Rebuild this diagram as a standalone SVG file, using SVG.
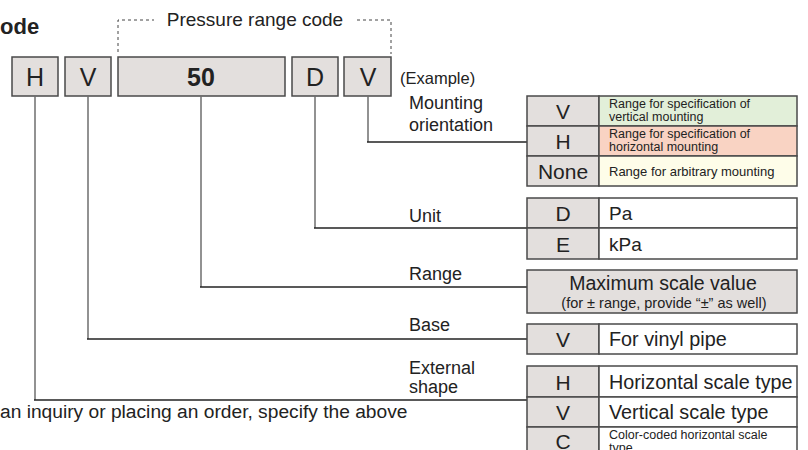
<svg xmlns="http://www.w3.org/2000/svg" width="808" height="450" viewBox="0 0 808 450">
<style>
text{font-family:"Liberation Sans",Arial,sans-serif;fill:#222}
.box{fill:#e3dfdd;stroke:#4a4a4a;stroke-width:1.5}
.cell{stroke:#4a4a4a;stroke-width:1.5}
.code{font-size:25px;text-anchor:middle}
.lab{font-size:18px}
.tk{font-size:21px;text-anchor:middle}
.td{font-size:19.8px}
.ts{font-size:12.5px}
.v{fill:none;stroke:#6e6e6e;stroke-width:1.5}
.h{fill:none;stroke:#222;stroke-width:1.5}
.dash{fill:none;stroke:#444;stroke-width:1;stroke-dasharray:3,3}
</style>
<text x="0" y="34" style="font-size:22px;font-weight:bold">ode</text>
<path class="dash" d="M118,52 V20 H154 M357,20 H391 V54"/>
<text x="255" y="26" style="font-size:19px;text-anchor:middle">Pressure range code</text>
<g id="codeH"><rect class="box" x="12" y="57" width="46" height="39"/><text class="code" x="35" y="86">H</text></g>
<g id="codeV1"><rect class="box" x="65" y="57" width="46" height="39"/><text class="code" x="88" y="86">V</text></g>
<g id="code50"><rect class="box" x="118" y="57" width="167" height="39"/><text class="code" x="201" y="86" style="font-weight:bold">50</text></g>
<g id="codeD"><rect class="box" x="292" y="57" width="46" height="39"/><text class="code" x="315" y="86">D</text></g>
<g id="codeV2"><rect class="box" x="344" y="57" width="47" height="39"/><text class="code" x="368" y="86">V</text></g>
<text x="400" y="84" style="font-size:16.5px">(Example)</text>
<g id="connectors">
<path class="v" d="M368,96 V142"/><path class="h" d="M367,142 H527"/>
<path class="v" d="M315,96 V228"/><path class="h" d="M314,228 H527"/>
<path class="v" d="M201,96 V287"/><path class="h" d="M200,287 H527"/>
<path class="v" d="M88,96 V339"/><path class="h" d="M87,339 H527"/>
<path class="v" d="M35,96 V400"/><path class="h" d="M34,400 H527"/>
</g>
<g id="mounting">
<text x="409" y="109" class="lab">Mounting</text>
<text x="409" y="131" class="lab">orientation</text>
<rect class="box" x="527" y="96" width="72" height="30"/>
<rect class="cell" x="599" y="96" width="198" height="30" fill="#e2efd9"/>
<rect class="box" x="527" y="126" width="72" height="30"/>
<rect class="cell" x="599" y="126" width="198" height="30" fill="#f9d3c3"/>
<rect class="box" x="527" y="156" width="72" height="30"/>
<rect class="cell" x="599" y="156" width="198" height="30" fill="#fefde9"/>
<text class="tk" x="563" y="119">V</text>
<text class="tk" x="563" y="149">H</text>
<text class="tk" x="563" y="179">None</text>
<text class="ts" x="609" y="107.5">Range for specification of</text>
<text class="ts" x="609" y="121">vertical mounting</text>
<text class="ts" x="609" y="137.5">Range for specification of</text>
<text class="ts" x="609" y="151">horizontal mounting</text>
<text class="ts" x="609" y="175.5" style="font-size:13px">Range for arbitrary mounting</text>
</g>
<g id="unit">
<text x="409" y="222" class="lab">Unit</text>
<rect class="box" x="527" y="198" width="72" height="30"/>
<rect class="cell" x="599" y="198" width="198" height="30" fill="#fff"/>
<rect class="box" x="527" y="228" width="72" height="31"/>
<rect class="cell" x="599" y="228" width="198" height="31" fill="#fff"/>
<text class="tk" x="563" y="221">D</text>
<text class="tk" x="563" y="252">E</text>
<text x="609" y="220" style="font-size:19px">Pa</text>
<text x="609" y="251" style="font-size:19px">kPa</text>
</g>
<g id="range">
<text x="409" y="280" class="lab">Range</text>
<rect class="box" x="527" y="270" width="270" height="43"/>
<text x="663" y="290" style="font-size:19.5px;text-anchor:middle">Maximum scale value</text>
<text x="664" y="308" style="font-size:14.5px;text-anchor:middle">(for ± range, provide “±” as well)</text>
</g>
<g id="base">
<text x="409" y="331" class="lab">Base</text>
<rect class="box" x="527" y="324" width="72" height="30"/>
<rect class="cell" x="599" y="324" width="198" height="30" fill="#fff"/>
<text class="tk" x="563" y="347">V</text>
<text class="td" x="609" y="346">For vinyl pipe</text>
</g>
<g id="shape">
<text x="409" y="374" class="lab">External</text>
<text x="409" y="393" class="lab">shape</text>
<rect class="box" x="527" y="366" width="72" height="31"/>
<rect class="cell" x="599" y="366" width="198" height="31" fill="#fff"/>
<rect class="box" x="527" y="397" width="72" height="30"/>
<rect class="cell" x="599" y="397" width="198" height="30" fill="#fff"/>
<rect class="box" x="527" y="427" width="72" height="30"/>
<rect class="cell" x="599" y="427" width="198" height="30" fill="#fff"/>
<text class="tk" x="563" y="390">H</text>
<text class="tk" x="563" y="420">V</text>
<text class="tk" x="563" y="449">C</text>
<text class="td" x="609" y="389">Horizontal scale type</text>
<text class="td" x="609" y="419">Vertical scale type</text>
<text class="ts" x="609" y="439">Color-coded horizontal scale</text>
<text class="ts" x="609" y="451.5">type</text>
</g>
<text x="0" y="418" style="font-size:19.2px">an inquiry or placing an order, specify the above</text>
</svg>
